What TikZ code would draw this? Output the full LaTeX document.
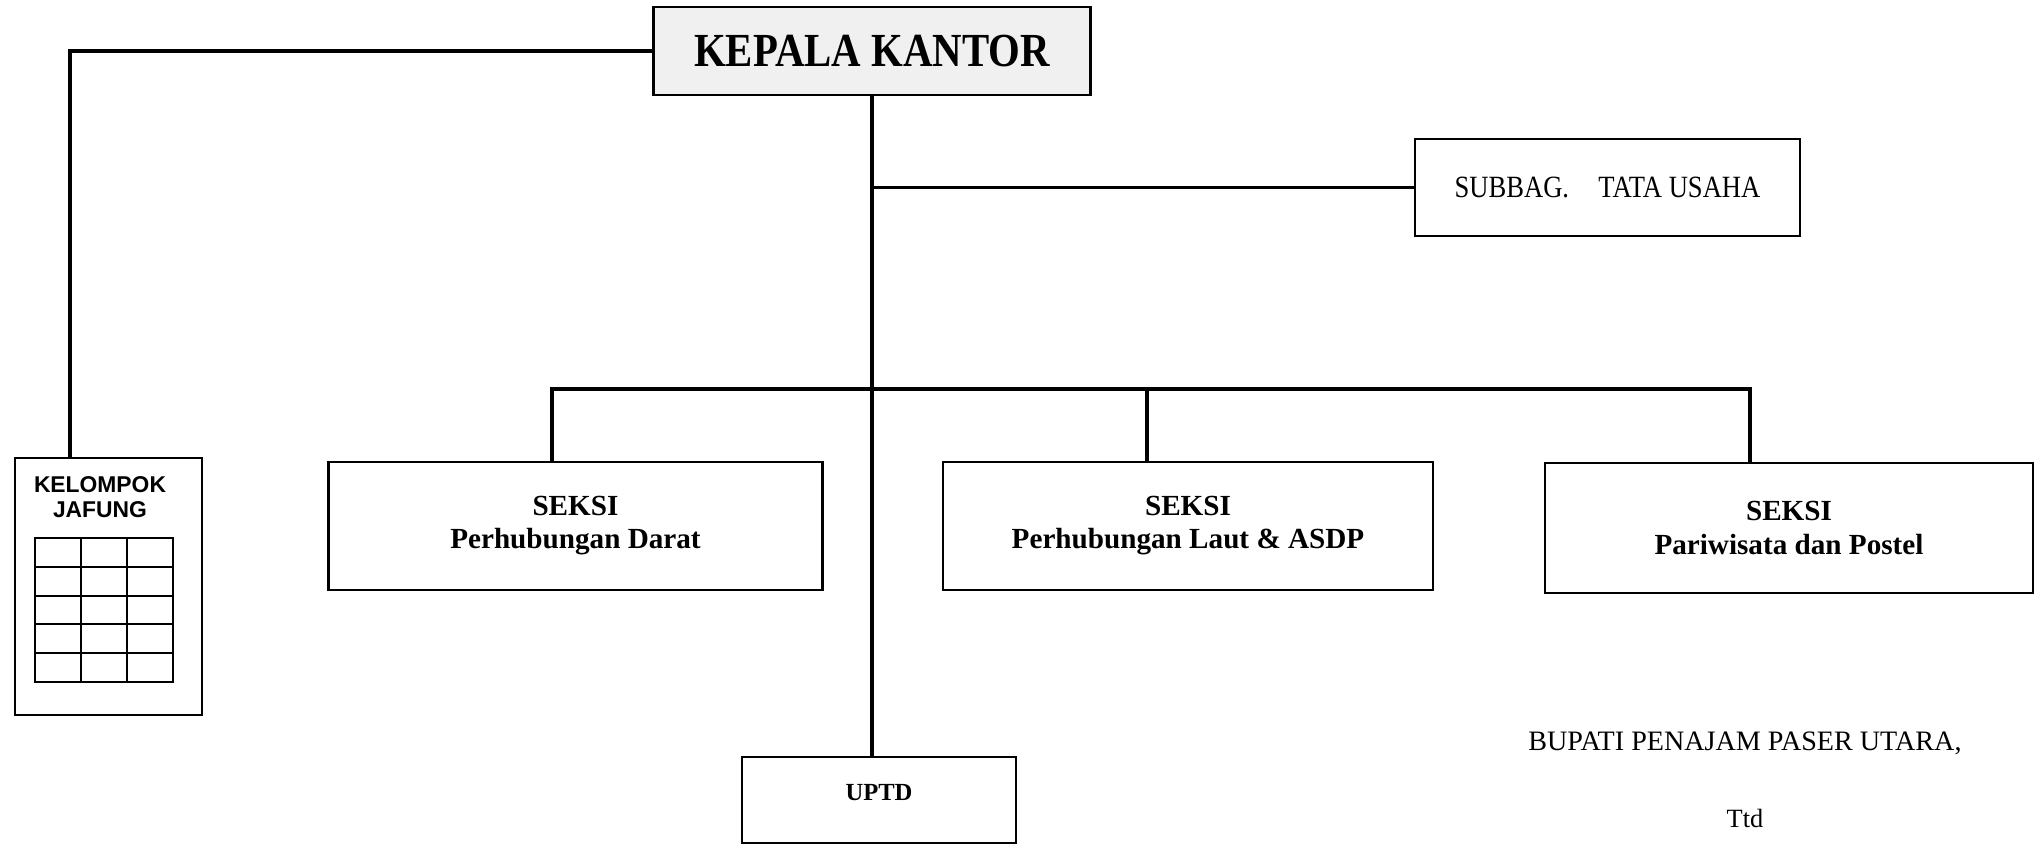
\documentclass[tikz,border=0pt]{standalone}
\usepackage{fontspec}
\setmainfont{Liberation Serif}
\newfontfamily\jafungfont{Liberation Sans}
\usepackage{tikz}
\usetikzlibrary{positioning}

\newcommand{\narrowtext}[1]{\scalebox{0.86}[1]{#1}}

\begin{document}
\begin{tikzpicture}[node distance=4.75cm]
        \tikzstyle{kepalabox} = [rectangle, minimum width=4.37cm, minimum height=0.88cm, text centered, draw=black, line width=0.8pt, fill=gray!12, font=\fontsize{13.5}{15}\selectfont\bfseries]
        \tikzstyle{unit} = [rectangle, minimum width=4.9cm, minimum height=1.28cm, text centered, align=center, draw=black, line width=0.7pt, font=\fontsize{8.3}{9.4}\selectfont\bfseries]
        \tikzstyle{subbagbox} = [rectangle, minimum width=3.85cm, minimum height=0.97cm, text centered, draw=black, line width=0.7pt, font=\fontsize{8.8}{10}\selectfont]
        \tikzstyle{uptdbox} = [rectangle, minimum width=2.74cm, minimum height=0.86cm, text centered, text depth=0.16cm, draw=black, line width=0.7pt, font=\fontsize{7}{8}\selectfont\bfseries]
        \tikzstyle{jafbox} = [rectangle, minimum width=1.87cm, minimum height=2.57cm, draw=black, line width=0.7pt]
        \tikzstyle{jaflabel} = [align=center, inner sep=0pt, font=\fontsize{6.5}{7.3}\selectfont\jafungfont\bfseries]
        \tikzstyle{sign} = [inner sep=0pt, font=\fontsize{8}{9.6}\selectfont]
        \tikzstyle{line} = [line width=0.9pt]

        \useasboundingbox (0,0) rectangle (20.37,-8.47);

        \node (kepala) [kepalabox] at (8.72,-0.51) {\narrowtext{KEPALA KANTOR}};
        \node (subbag) [subbagbox, below of=kepala, xshift=7.355cm, yshift=3.385cm] {\narrowtext{SUBBAG.\hspace{1.1em}TATA USAHA}};
        \node (darat) [unit, minimum width=4.94cm, below of=kepala, xshift=-2.965cm] {SEKSI\\Perhubungan Darat};
        \node (laut) [unit, below of=kepala, xshift=3.16cm] {SEKSI\\Perhubungan Laut \& ASDP};
        \node (postel) [unit, minimum width=4.88cm, minimum height=1.3cm, below of=kepala, xshift=9.17cm, yshift=-0.02cm] {SEKSI\\Pariwisata dan Postel};
        \node (uptd) [uptdbox, below of=kepala, xshift=0.07cm, yshift=-2.74cm] {UPTD};
        \node (kelompok) [jafbox, below of=kepala, xshift=-7.635cm, yshift=-0.605cm] {};
        \node (jafung) [jaflabel] at ([xshift=-0.085cm, yshift=0.895cm]kelompok.center) {KELOMPOK\\JAFUNG};
        \node (bupati) [sign, below of=postel, xshift=-0.44cm, yshift=2.6cm] {BUPATI PENAJAM PASER UTARA,};
        \node (ttd) [sign, font=\fontsize{7.5}{9}\selectfont, below of=bupati, node distance=0.75cm] {Ttd};

        % jafung table
        \coordinate (gridtl) at ([xshift=-0.735cm, yshift=0.485cm]kelompok.center);
        \draw [line width=0.6pt, shift={(gridtl)}] (0,0) grid [xstep=0.46cm, ystep=0.288cm] (1.38,-1.44) (0,0) rectangle (1.38,-1.44);

        \coordinate (jafjoin) at ([xshift=-0.385cm]kelompok.north);
        \coordinate (daratjoin) at ([xshift=-0.235cm]darat.north);
        \coordinate (lautjoin) at ([xshift=-0.41cm]laut.north);
        \coordinate (postjoin) at ([xshift=-0.39cm]postel.north);
        \coordinate (busleft) at ([yshift=0.72cm]daratjoin);

        \draw [line] (kepala.west) -| (jafjoin);
        \draw [line] (kepala.south) -- (kepala.south |- uptd.north);
        \draw [line] (subbag.west) -- (subbag.west -| kepala.south);
        \draw [line, line width=1.1pt] (daratjoin) -- (busleft) -| (postjoin);
        \draw [line] (lautjoin) -- (lautjoin |- busleft);
    \end{tikzpicture}
\end{document}
